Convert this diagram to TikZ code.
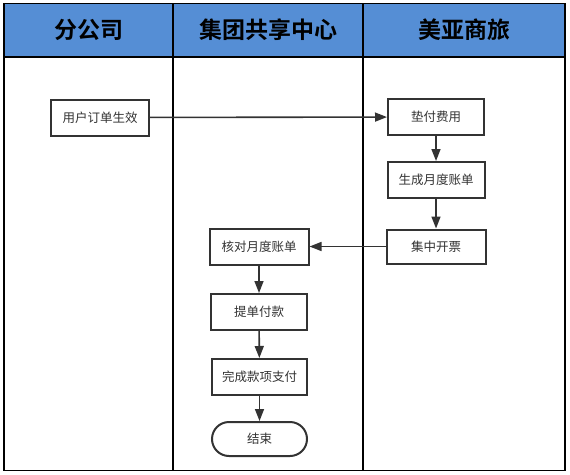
\documentclass[tikz,border=0pt]{standalone}
\usepackage{fontspec}
\newfontfamily\cjk{Noto Sans CJK SC}
\newfontfamily\cjkb{Noto Sans CJK SC Bold}
\usetikzlibrary{arrows.meta,shapes.misc}
\definecolor{hdrblue}{RGB}{85,142,213}
\definecolor{ink}{RGB}{51,51,51}
\tikzset{
  stepbox/.style={draw=ink,line width=2pt,fill=white,minimum height=36pt,inner sep=0pt,
    font=\cjk\fontsize{12.5pt}{14pt}\selectfont,text=ink},
  endbox/.style={stepbox,rounded rectangle},
  flow/.style={draw=ink,line width=1.6pt,-{Triangle[length=12pt,width=9pt]}},
  lane/.style={draw=black,line width=1.2pt},
  hdr/.style={font=\cjkb\fontsize{23pt}{26pt}\selectfont,text=black}
}
\begin{document}
\begin{tikzpicture}[x=1pt,y=-1pt]
\useasboundingbox (0,0) rectangle (570,474);
\fill[white] (0,0) rectangle (570,474);
\fill[hdrblue] (4,3.5) rectangle (565,57);
\draw[lane] (4,3.5) rectangle (565,470.5);
\draw[lane] (4,57) -- (565,57);
\draw[lane] (173,3.5) -- (173,470.5);
\draw[lane] (363,3.5) -- (363,470.5);
\node[hdr] (h1) at (88.5,30) {分公司};
\node[hdr] (h2) at (268,30) {集团共享中心};
\node[hdr] (h3) at (464,30) {美亚商旅};
\node[stepbox,minimum width=98pt] (a) at (100,117.5) {用户订单生效};
\node[stepbox,minimum width=96pt] (b) at (436,117) {垫付费用};
\node[stepbox,minimum width=97pt] (c) at (436,180) {生成月度账单};
\node[stepbox,minimum width=99pt,minimum height=34pt] (d) at (436,246.5) {集中开票};
\node[stepbox,minimum width=99pt] (e) at (259,246.5) {核对月度账单};
\node[stepbox,minimum width=96pt] (f) at (259,312) {提单付款};
\node[stepbox,minimum width=95pt] (g) at (259.5,377) {完成款项支付};
\node[endbox,minimum width=95pt,minimum height=34pt] (h) at (259.5,439) {结束};
\draw[flow] (a) -- (b);
\draw[flow] (b) -- (c);
\draw[flow] (c) -- (d);
\draw[flow] (d) -- (e);
\draw[flow] (e) -- (f);
\draw[flow] (f) -- (g);
\draw[flow] (g) -- (h);
\end{tikzpicture}
\end{document}
